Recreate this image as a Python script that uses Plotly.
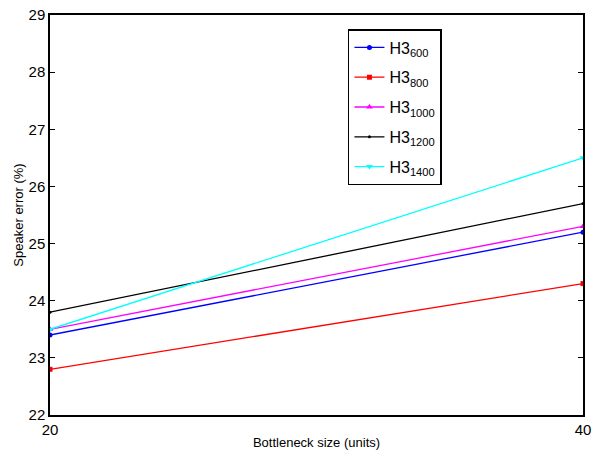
import plotly.graph_objects as go

x_vals = [20, 40]
names = ["H3<sub>600</sub>", "H3<sub>800</sub>", "H3<sub>1000</sub>", "H3<sub>1200</sub>", "H3<sub>1400</sub>"]
h600 = [23.4, 25.2]
h800 = [22.8, 24.3]
h1000 = [23.5, 25.3]
h1200 = [23.8, 25.7]
h1400 = [23.5, 26.5]
series = [h600, h800, h1000, h1200, h1400]
colors = ["#0000ff", "#ff0000", "#ff00ff", "#000000", "#00ffff"]
symbols = ["circle", "square", "triangle-up", "circle", "triangle-down"]
sizes = [5, 5, 6, 3, 6]

fig = go.Figure()
for i, (n, s, c, sym, sz) in enumerate(zip(names, series, colors, symbols, sizes)):
    fig.add_trace(go.Scatter(x=x_vals, y=s, name=n, mode="lines+markers",
                             legendgroup=f"g{i}",
                             line=dict(color=c, width=1.3),
                             marker=dict(symbol=sym, size=sz, color=c)))

axis_common = dict(showline=True, linecolor="black", linewidth=1.5, mirror="ticks",
                   ticks="inside", ticklen=5, tickcolor="black", showgrid=False,
                   zeroline=False, automargin=False, tickfont=dict(size=15, color="black"))
fig.update_xaxes(range=[20, 40], tickvals=[20, 40],
                 title=dict(text="Bottleneck size (units)", font=dict(size=13, color="black"), standoff=4),
                 **axis_common)
fig.update_yaxes(range=[22, 29], dtick=1,
                 title=dict(text="Speaker error (%)", font=dict(size=13, color="black"), standoff=2),
                 **axis_common)
fig.update_layout(width=599, height=450, margin=dict(l=50, r=16, t=15, b=35),
                  plot_bgcolor="white", paper_bgcolor="white",
                  font=dict(family="Liberation Sans, Arial, sans-serif", color="black"),
                  showlegend=True,
                  legend=dict(x=0.559, y=0.965, xanchor="left", yanchor="top",
                              bgcolor="white", bordercolor="black", borderwidth=1.5,
                              font=dict(size=16, color="black"), itemwidth=30,
                              tracegroupgap=6))
fig.write_html("out.html")
